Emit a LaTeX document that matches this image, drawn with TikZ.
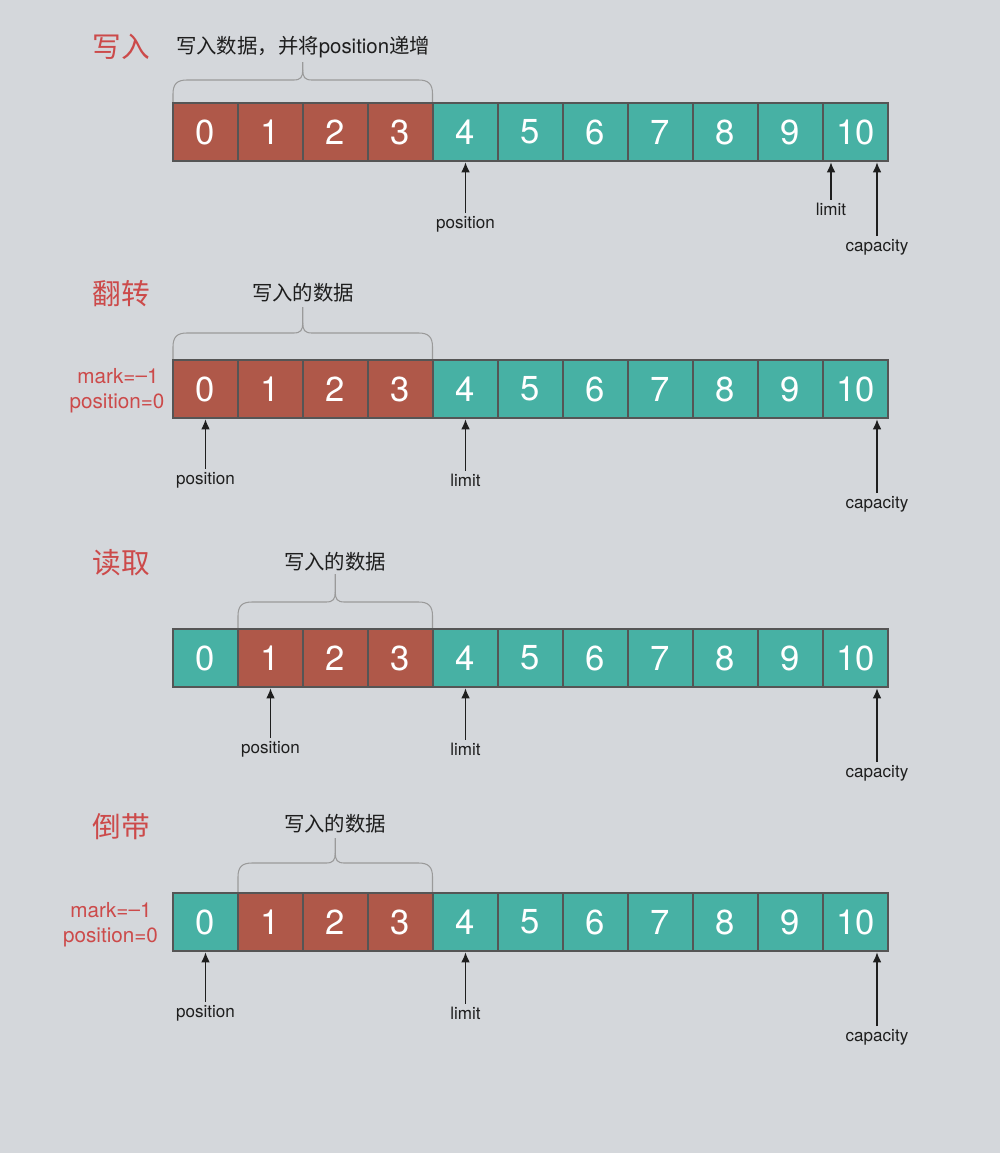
\documentclass[tikz,border=0pt]{standalone}
\usepackage{fontspec}
\setmainfont{TeX Gyre Heros}
\newfontfamily\cjk{Noto Sans CJK SC}
\usetikzlibrary{arrows.meta}
\definecolor{bgc}{HTML}{D4D7DB}
\definecolor{redc}{HTML}{AF5849}
\definecolor{tealc}{HTML}{47B1A4}
\definecolor{edgec}{HTML}{555555}
\definecolor{titlec}{HTML}{CC4A4A}
\definecolor{bracec}{HTML}{9A9A9A}
\definecolor{inkc}{HTML}{1E1E1E}
\tikzset{
  cellbox/.style={draw=edgec, line width=1pt, minimum width=48.75pt, minimum height=43.5pt,
    inner sep=0pt, outer sep=0pt, text=white, font=\fontsize{26}{26}\selectfont},
  redcell/.style={cellbox, fill=redc},
  tealcell/.style={cellbox, fill=tealc},
  ptrlabel/.style={font=\fontsize{12.8}{12.8}\selectfont, text=inkc, inner sep=2pt},
  ptrarrow/.style={draw=inkc, line width=0.95pt, -{Latex[length=7.5pt,width=6.5pt]}, shorten >=1pt},
  rowtitle/.style={font=\cjk\fontsize{21.5}{21.5}\selectfont, text=titlec},
  bracelabel/.style={font=\cjk\fontsize{15.3}{15.3}\selectfont, text=inkc},
  marklabel/.style={font=\fontsize{15.5}{15.5}\selectfont, text=titlec, inner sep=0pt},
  bracepath/.style={draw=bracec, line width=0.8pt}
}
% brace: x1, x2, ybottom, yhoriz, ytip
\newcommand{\mybrace}[5]{%
  \pgfmathsetmacro{\bcx}{(#1+#2)/2}%
  \draw[bracepath] (#1,#3) -- (#1,#4+14) .. controls (#1,#4+4) and (#1+4,#4) .. (#1+14,#4)
    -- (\bcx-9,#4) .. controls (\bcx-2,#4) and (\bcx,#4-3) .. (\bcx,#4-10) -- (\bcx,#5);
  \draw[bracepath] (#2,#3) -- (#2,#4+14) .. controls (#2,#4+4) and (#2-4,#4) .. (#2-14,#4)
    -- (\bcx+9,#4) .. controls (\bcx+2,#4) and (\bcx,#4-3) .. (\bcx,#4-10);
}
% row of cells: row id, y centre, first red, last red
\newcommand{\cellrow}[4]{%
  \foreach \i in {0,...,10} {
    \pgfmathtruncatemacro{\isred}{(\i>=#3) && (\i<=#4) ? 1 : 0}
    \ifnum\isred=1
      \node[redcell] (#1c\i) at ({205.5+65*\i},#2) {\i};
    \else
      \node[tealcell] (#1c\i) at ({205.5+65*\i},#2) {\i};
    \fi
  }
}
\begin{document}
\begin{tikzpicture}[x=0.75pt,y=-0.75pt]
\fill[bgc] (0,0) rectangle (1000,1153);
\useasboundingbox (0,0) rectangle (1000,1153);

% ---------- Row 1: 写入 ----------
\node[rowtitle] (t1) at (121,47) {写入};
\node[bracelabel] (b1) at (303,47) {写入数据，并将{\rmfamily\fontsize{15.3}{15.3}\selectfont position}递增};
\mybrace{173}{432.5}{102}{80}{62}
\cellrow{a}{132}{0}{3}
\node[ptrlabel] (a-pos) at (465.5,224) {position};
\node[ptrlabel] (a-lim) at (831,209) {limit};
\node[ptrlabel] (a-cap) at (877,247) {capacity};
\draw[ptrarrow] (a-pos.north) -- (a-pos.north |- ac4.south);
\draw[ptrarrow] (a-lim.north) -- (a-lim.north |- ac10.south);
\draw[ptrarrow] (a-cap.north) -- (a-cap.north |- ac10.south);

% ---------- Row 2: 翻转 ----------
\node[rowtitle] (t2) at (121,294) {翻转};
\node[bracelabel] (b2) at (303,293) {写入的数据};
\mybrace{173}{432.5}{359}{333}{307}
\node[marklabel] (m2a) at (118,376) {mark=\raisebox{0.05em}{–}1};
\node[marklabel] (m2b) at (117,403) {position=0};
\cellrow{b}{389}{0}{3}
\node[ptrlabel] (b-pos) at (205.5,480) {position};
\node[ptrlabel] (b-lim) at (465.5,480) {limit};
\node[ptrlabel] (b-cap) at (877,504) {capacity};
\draw[ptrarrow] (b-pos.north) -- (b-pos.north |- bc0.south);
\draw[ptrarrow] (b-lim.north) -- (b-lim.north |- bc4.south);
\draw[ptrarrow] (b-cap.north) -- (b-cap.north |- bc10.south);

% ---------- Row 3: 读取 ----------
\node[rowtitle] (t3) at (121,563) {读取};
\node[bracelabel] (b3) at (335,562) {写入的数据};
\mybrace{238}{432.5}{628}{602}{574}
\cellrow{c}{658}{1}{3}
\node[ptrlabel] (c-pos) at (270.5,749) {position};
\node[ptrlabel] (c-lim) at (465.5,749) {limit};
\node[ptrlabel] (c-cap) at (877,773) {capacity};
\draw[ptrarrow] (c-pos.north) -- (c-pos.north |- cc1.south);
\draw[ptrarrow] (c-lim.north) -- (c-lim.north |- cc4.south);
\draw[ptrarrow] (c-cap.north) -- (c-cap.north |- cc10.south);

% ---------- Row 4: 倒带 ----------
\node[rowtitle] (t4) at (121,827) {倒带};
\node[bracelabel] (b4) at (335,824) {写入的数据};
\mybrace{238}{432.5}{892}{863}{838}
\node[marklabel] (m4a) at (111,910) {mark=\raisebox{0.05em}{–}1};
\node[marklabel] (m4b) at (110.5,937) {position=0};
\cellrow{d}{922}{1}{3}
\node[ptrlabel] (d-pos) at (205.5,1013) {position};
\node[ptrlabel] (d-lim) at (465.5,1013) {limit};
\node[ptrlabel] (d-cap) at (877,1037) {capacity};
\draw[ptrarrow] (d-pos.north) -- (d-pos.north |- dc0.south);
\draw[ptrarrow] (d-lim.north) -- (d-lim.north |- dc4.south);
\draw[ptrarrow] (d-cap.north) -- (d-cap.north |- dc10.south);
\end{tikzpicture}
\end{document}
